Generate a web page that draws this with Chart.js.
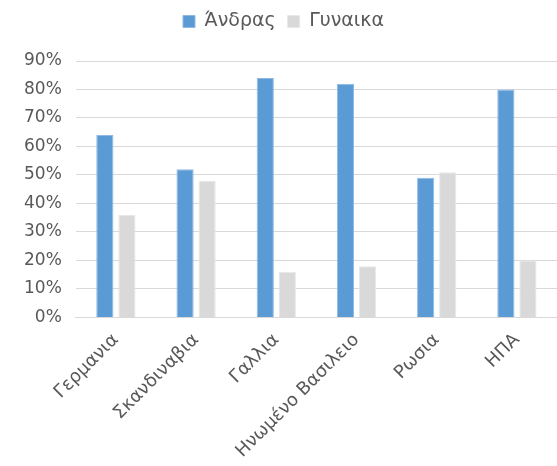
<!DOCTYPE html>
<html>
<head>
<meta charset="utf-8">
<script src="https://cdn.jsdelivr.net/npm/chart.js@4"></script>
<style>
  html, body { margin: 0; padding: 0; background: #fff; }
  #wrap { width: 557px; height: 466px; }
</style>
</head>
<body>
<div id="wrap"><canvas id="chart-gender"></canvas></div>
<script>
const countries = ['Γερμανια', 'Σκανδιναβια', 'Γαλλια', 'Ηνωμένο Βασιλειο', 'Ρωσια', 'ΗΠΑ'];
const menValues = [64, 52, 84, 82, 49, 80];
const womenValues = [36, 48, 16, 18, 51, 20];
const seriesNames = ['Άνδρας', 'Γυναικα'];

const chartGender = document.getElementById('chart-gender');

// extra room under the legend
const legendSpace = {
  id: 'legendSpace',
  beforeInit(chart) {
    const fit = chart.legend.fit;
    chart.legend.fit = function () {
      fit.bind(chart.legend)();
      this.height += 20;
    };
  }
};

new Chart(chartGender, {
  type: 'bar',
  data: {
    labels: countries,
    datasets: [{
      label: seriesNames[0],
      data: menValues,
      backgroundColor: '#5b9bd5',
      borderColor: '#8fb9e3',
      borderWidth: 1
    }, {
      label: seriesNames[1],
      data: womenValues,
      backgroundColor: '#d9d9d9',
      borderColor: '#e8e8e8',
      borderWidth: 1
    }]
  },
  options: {
    responsive: true,
    maintainAspectRatio: false,
    animation: false,
    categoryPercentage: 0.55,
    barPercentage: 0.78,
    layout: { padding: { left: 10, right: 0, top: 0, bottom: 0 } },
    plugins: {
      legend: {
        position: 'top',
        labels: {
          boxWidth: 12,
          boxHeight: 12,
          color: '#595959',
          padding: 12,
          font: { family: 'DejaVu Sans', size: 19 }
        }
      },
      tooltip: { enabled: false }
    },
    scales: {
      y: {
        min: 0,
        max: 90,
        ticks: {
          stepSize: 10,
          color: '#595959',
          padding: 14,
          font: { family: 'DejaVu Sans', size: 17 },
          callback: v => v + '%'
        },
        grid: { color: '#d9d9d9', drawTicks: false },
        border: { display: false }
      },
      x: {
        ticks: {
          color: '#595959',
          maxRotation: 45,
          minRotation: 45,
          padding: 4,
          font: { family: 'DejaVu Sans', size: 18 }
        },
        grid: { display: false },
        border: { color: '#d9d9d9' }
      }
    }
  },
  plugins: [legendSpace]
});
</script>
</body>
</html>
